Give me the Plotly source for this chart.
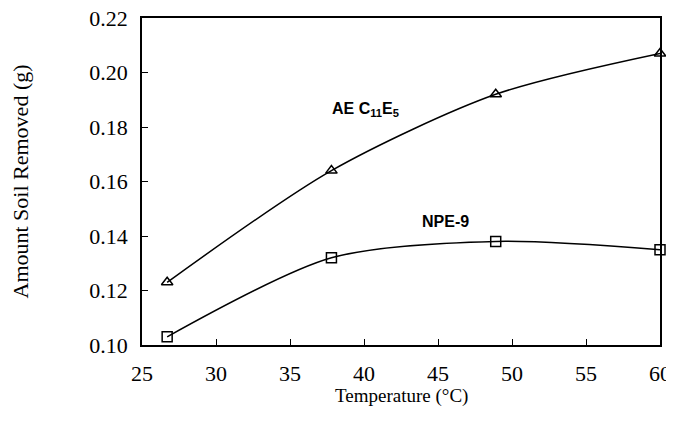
import plotly.graph_objects as go

temperature = [26.7, 37.8, 48.9, 60.0]
ae_c11e5 = [0.123, 0.164, 0.192, 0.207]
npe_9 = [0.103, 0.132, 0.138, 0.135]

x_ticks = [25, 30, 35, 40, 45, 50, 55, 60]
y_ticks = [0.10, 0.12, 0.14, 0.16, 0.18, 0.20, 0.22]

fig = go.Figure()
fig.add_trace(go.Scatter(
    x=temperature, y=ae_c11e5, mode="lines+markers",
    line=dict(color="black", width=1.5, shape="spline", smoothing=0.8),
    marker=dict(symbol="triangle-up-open", size=10, color="black", line=dict(width=1.5)),
    showlegend=False, cliponaxis=False))
fig.add_trace(go.Scatter(
    x=temperature, y=npe_9, mode="lines+markers",
    line=dict(color="black", width=1.5, shape="spline", smoothing=0.8),
    marker=dict(symbol="square-open", size=10, color="black", line=dict(width=1.5)),
    showlegend=False, cliponaxis=False))

fig.add_annotation(x=40.1, y=0.1866, text="<b>AE C<sub>11</sub>E<sub>5</sub></b>", showarrow=False,
                   font=dict(family="Liberation Sans, Arial", size=16, color="black"))
fig.add_annotation(x=45.5, y=0.1455, text="<b>NPE-9</b>", showarrow=False,
                   font=dict(family="Liberation Sans, Arial", size=16, color="black"))
fig.add_annotation(x=0.5, y=0, xref="paper", yref="paper", yanchor="middle", yshift=-51,
                   text="Temperature (°C)", showarrow=False,
                   font=dict(family="Liberation Serif, Times New Roman", size=19, color="black"))

axis_common = dict(showgrid=False, zeroline=False, showline=True, linecolor="black", linewidth=1.5,
                   mirror=True, ticks="inside", ticklen=6, tickcolor="black", tickwidth=1,
                   automargin=False, ticklabeloverflow="allow",
                   tickfont=dict(family="Liberation Serif, Times New Roman", size=22, color="black"))

fig.update_xaxes(range=[25, 60], tickvals=x_ticks, ticktext=[str(v) for v in x_ticks],
                 ticklabelstandoff=8, **axis_common)
fig.update_yaxes(range=[0.10, 0.22], tickvals=y_ticks, ticktext=[f"{v:.2f}" for v in y_ticks],
                 ticklabelstandoff=8,
                 title=dict(text="Amount Soil Removed (g)", standoff=62,
                            font=dict(family="Liberation Serif, Times New Roman", size=22, color="black")),
                 **axis_common)

fig.update_layout(width=666, height=418, margin=dict(l=134, r=14, t=10, b=81),
                  plot_bgcolor="white", paper_bgcolor="white")
fig.write_html("out.html")
